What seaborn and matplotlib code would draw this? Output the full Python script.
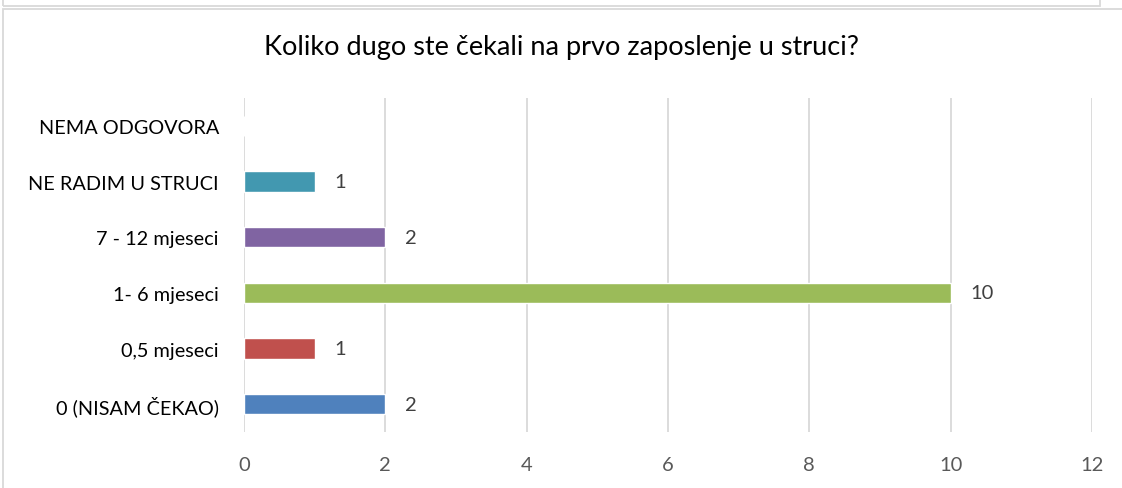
import matplotlib
matplotlib.use("Agg")
import matplotlib.pyplot as plt
import seaborn as sns
import pandas as pd
from matplotlib.patches import Rectangle

# data, top to bottom as in the reference
categories = ["NEMA ODGOVORA", "NE RADIM U STRUCI", "7 - 12 mjeseci",
              "1- 6 mjeseci", "0,5 mjeseci", "0 (NISAM ČEKAO)"]
values = [0, 1, 2, 10, 1, 2]
colors = ["#4298B0", "#4298B0", "#8064A2", "#9BBB59", "#C0504D", "#4F81BD"]
xticks = [0, 2, 4, 6, 8, 10, 12]
title = "Koliko dugo ste čekali na prvo zaposlenje u struci?"

df = pd.DataFrame({"cat": categories, "val": values})

sns.set_style("white")
plt.rcParams["font.family"] = ["Lato", "DejaVu Sans"]

fig = plt.figure(figsize=(11.22, 4.89), dpi=100)
ax = fig.add_axes([244 / 1122, 1 - 433 / 489, (1092 - 244) / 1122, 334 / 489])

sns.barplot(data=df, x="val", y="cat", hue="cat", order=categories,
            palette=dict(zip(categories, colors)), legend=False,
            width=0.36, saturation=1, ax=ax, orient="h")

for cont, v in zip(ax.containers, values):
    if v > 0:
        ax.bar_label(cont, labels=[str(v)], padding=14, fontsize=14.5, color="#404040")

ax.set_xlim(0, 12)
ax.set_xticks(xticks)
ax.xaxis.grid(True, color="#D9D9D9", linewidth=1.3)
ax.set_axisbelow(True)
for s in ax.spines.values():
    s.set_visible(False)
ax.set_xlabel("")
ax.set_ylabel("")
ax.tick_params(axis="x", labelsize=14.5, labelcolor="#595959", length=0, pad=17)
ax.tick_params(axis="y", labelsize=14.3, labelcolor="#000000", length=0, pad=18)

fig.text(0.5, 1 - 48 / 489, title, ha="center", va="center", fontsize=19.5, color="#000000")

# chart frames
fig.patches.append(Rectangle((3 / 1122, -0.1), 1.2, 1 - 10 / 489 + 0.1,
                             transform=fig.transFigure, fill=False,
                             edgecolor="#D9D9D9", linewidth=1.3))
fig.patches.append(Rectangle((3 / 1122, 1 - 7 / 489), 1097 / 1122, 0.1,
                             transform=fig.transFigure, fill=False,
                             edgecolor="#D9D9D9", linewidth=1.3))

fig.savefig("out.png", dpi=100)
